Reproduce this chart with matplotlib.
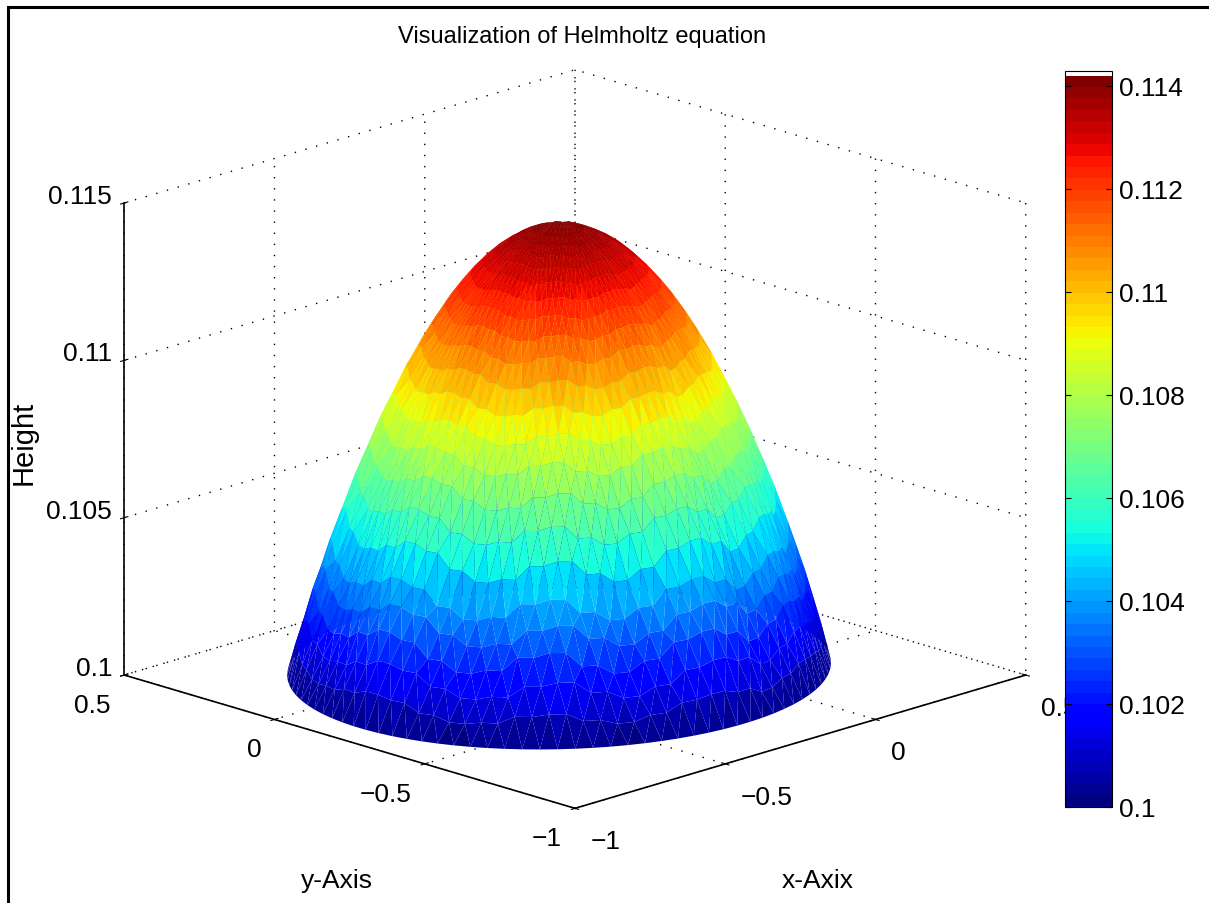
import numpy as np
import matplotlib
matplotlib.use('Agg')
import matplotlib.pyplot as plt
from matplotlib.colors import Normalize
from matplotlib.patches import Rectangle
from matplotlib.ticker import FixedLocator, FixedFormatter

plt.rcParams['font.family'] = ['Liberation Sans', 'DejaVu Sans']

# radial profile of the dome
radios = [0.0, 0.03, 0.06, 0.09, 0.12, 0.15, 0.18, 0.21, 0.24, 0.27, 0.30, 0.33, 0.36,
          0.39, 0.42, 0.45, 0.48, 0.51, 0.54, 0.56, 0.58, 0.60, 0.62, 0.64]
alturas = [0.1141, 0.11407, 0.11398, 0.11382, 0.1136, 0.11333, 0.11298, 0.11258, 0.11212,
           0.11159, 0.1110, 0.11035, 0.10964, 0.10886, 0.10803, 0.10713, 0.10617, 0.10515,
           0.10406, 0.1033, 0.10252, 0.10171, 0.10087, 0.1000]
# how strong the jagged bands are on each ring
pesos = [0, 0, 0.1, 0.1, 0.2, 0.2, 0.3, 0.3, 0.4, 0.5, 0.6, 0.7, 0.8,
         0.9, 1, 1.2, 1.3, 1.5, 1.5, 1.5, 1.5, 1.2, 0.8, 0]
# band wobble around the circle (units of 1e-4), estimated
ondas = [0, 1, -1, 2, 0, -1, 1, 2, -1, 0, 1, -1, 2, 0, -1, 1, 0, -2, 1, 3, 0, -2, -1, 1,
         3, 2, -1, -3, -2, 1, 2, -1, -3, -1, 2, 3, 1, -2, 0, 2, 1, -1, 0, 2, -1, 1, 0, -1]
centro = (-0.243, -0.19)
escala = (1.037, 0.961)

ticks_xy = [-1, -0.5, 0, 0.5]
etiquetas_xy = ['\u22121', '\u22120.5', '0', '0.5']
ticks_z = [0.1, 0.105, 0.11, 0.115]
etiquetas_z = ['0.1', '0.105', '0.11', '0.115']
ticks_barra = [0.1, 0.102, 0.104, 0.106, 0.108, 0.11, 0.112, 0.114]
etiquetas_barra = ['0.1', '0.102', '0.104', '0.106', '0.108', '0.11', '0.112', '0.114']

W, H = 1209, 904
fig = plt.figure(figsize=(W / 100, H / 100), dpi=100)

# malla triangular en anillos
n = len(ondas) * 2
xs, ys, zs, tris = [], [], [], []
for i, r in enumerate(radios):
    for j in range(n):
        ang = 2 * np.pi * (j + 0.5 * (i % 2)) / n
        xs.append(centro[0] + escala[0] * r * np.cos(ang))
        ys.append(centro[1] + escala[1] * r * np.sin(ang))
        zs.append(alturas[i] + pesos[i] * ondas[j // 2] * 1e-4)
for i in range(len(radios) - 1):
    for j in range(n):
        a = i * n + j
        b = i * n + (j + 1) % n
        c = (i + 1) * n + j
        d = (i + 1) * n + (j + 1) % n
        if i % 2 == 0:
            tris += [[a, b, c], [b, d, c]]
        else:
            tris += [[a, b, d], [a, d, c]]

S = 998
ax = fig.add_axes([62.5 / W, -48.5 / H, S / W, S / H], projection='3d')
ax.set_proj_type('ortho')
ax.view_init(elev=17.2, azim=-135)
ax.set_box_aspect((636, 636, 493))
ax.patch.set_alpha(0)

mapa = plt.get_cmap('jet', 64)
norma = Normalize(0.1, 0.1142)
sup = ax.plot_trisurf(xs, ys, zs, triangles=tris, cmap=mapa, norm=norma,
                      linewidth=0, antialiased=True, shade=False)

ax.set_xlim(-1, 0.5)
ax.set_ylim(-1, 0.5)
ax.set_zlim(0.1, 0.115)

for eje, tk, lb in [(ax.xaxis, ticks_xy, etiquetas_xy), (ax.yaxis, ticks_xy, etiquetas_xy),
                    (ax.zaxis, ticks_z, etiquetas_z)]:
    eje.set_major_locator(FixedLocator(tk))
    eje.set_major_formatter(FixedFormatter(lb))
    eje.set_pane_color((1, 1, 1, 0))
    eje.pane.set_edgecolor('none')
    eje._axinfo['grid'].update(color='k', linewidth=1.0, linestyle=(0, (1, 7)))
    eje._axinfo['axisline']['color'] = 'k'
    eje._axinfo['tick'].update(inward_factor=0.1, outward_factor=0.1, linewidth={True: 0.8, False: 0.5})
    eje.line.set_linewidth(1.2)
ax.zaxis.set_ticks_position('upper')
ax.tick_params(axis='x', labelsize=19, pad=5)
ax.tick_params(axis='y', labelsize=19, pad=3)
ax.tick_params(axis='z', labelsize=19, pad=-3)

for eje, ha in [(ax.xaxis, 'left'), (ax.yaxis, 'right'), (ax.zaxis, 'right')]:
    for t in eje.get_major_ticks():
        t.label1.set_ha(ha)
for t in ax.zaxis.get_major_ticks():
    t.label1.set_va('baseline')

# barra de color
cax = fig.add_axes([1065 / W, (H - 808) / H, 47 / W, 736 / H])
fig.colorbar(sup, cax=cax)
cax.set_ylim(0.1, 0.11429)
cax.set_yticks(ticks_barra, etiquetas_barra)
cax.tick_params(direction='in', left=True, right=True, length=4, width=0.8, labelsize=19, pad=5)

fig.text(582 / W, 1 - 37 / H, 'Visualization of Helmholtz equation', ha='center', va='center', fontsize=17)
fig.text(337 / W, 1 - 881 / H, 'y-Axis', ha='center', va='center', fontsize=19)
fig.text(818 / W, 1 - 881 / H, 'x-Axix', ha='center', va='center', fontsize=19)
fig.text(24 / W, 1 - 443 / H, 'Height', ha='center', va='center', rotation=90, fontsize=21)

# marco negro de la captura
fig.add_artist(Rectangle((8 / W, -10 / H), 1300 / W, (H + 10 - 8) / H, transform=fig.transFigure,
                         fill=False, edgecolor='k', linewidth=2.2))

fig.savefig('out.png', dpi=100)
